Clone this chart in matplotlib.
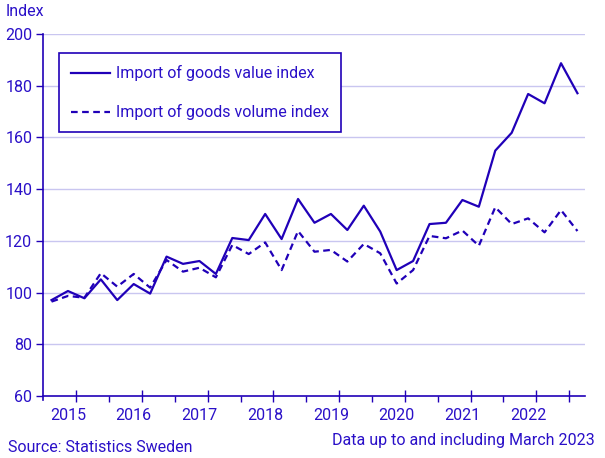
import numpy as np
import matplotlib.pyplot as plt

plt.rcParams['font.family'] = ['Roboto', 'DejaVu Sans']

# quarterly data, 2015 Q1 .. 2023 Q1
value_index = [97.1, 100.6, 97.8, 105.1, 97.1, 103.3, 99.6, 113.9, 111.1, 112.2, 107.2,
               121.1, 120.3, 130.4, 120.7, 136.2, 127.0, 130.4, 124.2, 133.6, 123.6,
               108.7, 112.2, 126.5, 127.0, 135.8, 133.2, 154.9, 161.8, 176.8, 173.2,
               188.7, 177.1]
volume_index = [96.5, 98.7, 98.0, 107.5, 102.3, 107.2, 101.9, 112.6, 108.1, 109.6, 105.9,
                118.4, 114.9, 119.4, 108.7, 123.8, 115.8, 116.5, 112.0, 118.8, 115.2,
                103.5, 108.7, 121.9, 121.0, 124.0, 118.1, 133.0, 126.5, 128.7, 123.3,
                131.9, 123.8]
years = ['2015', '2016', '2017', '2018', '2019', '2020', '2021', '2022']

col = '#2000b8'
txt = '#2a10c8'
grid = '#c9c6f0'

fig = plt.figure(figsize=(6.05, 4.58), dpi=100)
ax = fig.add_axes([43.3/605, 1-396/458, (585-43.3)/605, (396-34)/458])

x = np.arange(len(value_index))
ax.plot(x, value_index, color=col, lw=1.6, label='Import of goods value index')
ax.plot(x, volume_index, color=col, lw=1.6, dashes=(3, 2), label='Import of goods volume index')

ax.set_xlim(-0.5, 32.46)
ax.set_ylim(60, 200)
ax.set_yticks(np.arange(60, 201, 20))
for yv in np.arange(80, 201, 20):
    ax.axhline(yv, color=grid, lw=1, zorder=0)

# labels at Q2, long ticks at mid-year, short ticks at year boundaries
ax.set_xticks([1 + 4*i for i in range(len(years))])
ax.set_xticklabels(years)
ax.tick_params(axis='x', which='major', length=0, pad=9, labelsize=11.5, labelcolor=txt)
ax.set_xticks([1.5 + 4*i for i in range(8)] + [31.5] + [3.5 + 4*i for i in range(7)], minor=True)
ax.tick_params(axis='x', which='minor', length=9, width=1, color=col, direction='inout')
for t in ax.xaxis.get_minor_ticks()[9:]:
    t.tick1line.set_markersize(4)
    t.tick1line.set_marker(3)
ax.tick_params(axis='y', length=5, width=1, color=col, labelsize=11.5, labelcolor=txt, pad=3)

for s in ['top', 'right']:
    ax.spines[s].set_visible(False)
for s in ['left', 'bottom']:
    ax.spines[s].set_color(col)
    ax.spines[s].set_linewidth(1.2)
ax.spines['left'].set_bounds(58.5, 200)

leg = ax.legend(loc='upper left', bbox_to_anchor=(16/541.7, 1-19.3/362), borderaxespad=0,
                fancybox=False, edgecolor=col, framealpha=1, fontsize=11.5, handlelength=2.4,
                labelspacing=1.45, borderpad=0.75, handletextpad=0.4)
leg.get_frame().set_linewidth(1.2)
for t in leg.get_texts():
    t.set_color(txt)

fig.text(6/605, 1-12/458, 'Index', color=txt, fontsize=11.5, va='center', ha='left')
fig.text(8/605, 1-447/458, 'Source: Statistics Sweden', color=txt, fontsize=11.5, va='center', ha='left')
fig.text(595/605, 1-440/458, 'Data up to and including March 2023', color=txt, fontsize=11.5,
         va='center', ha='right')

fig.savefig('out.png', dpi=100)
